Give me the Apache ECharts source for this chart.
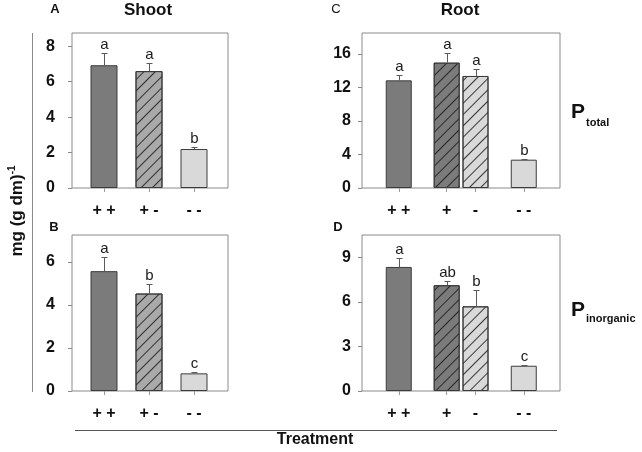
<!DOCTYPE html>
<html>
<head>
<meta charset="utf-8">
<script src="https://cdn.jsdelivr.net/npm/echarts@6/dist/echarts.min.js"></script>
<style>
  html, body { margin: 0; padding: 0; background: #fff; }
  #chart { width: 642px; height: 452px; }
</style>
</head>
<body>
<div id="chart"></div>
<script>
'use strict';

// treatment groups
var shootCats = ['+ +', '+ -', '- -'];
var rootCats = ['+ +', '', '- -'];     // middle group is split in two bars
var rootPairCats = ['+', '-'];

// A: shoot, P total
var shootTotal = [6.93, 6.6, 2.2];
var shootTotalErr = [0.67, 0.45, 0.1];
var shootTotalSig = ['a', 'a', 'b'];
// B: shoot, P inorganic
var shootInorg = [5.57, 4.53, 0.82];
var shootInorgErr = [0.66, 0.44, 0.05];
var shootInorgSig = ['a', 'b', 'c'];
// C: root, P total  (++, +, -, --)
var rootTotal = [12.85, 14.96, 13.37, 3.38];
var rootTotalErr = [0.6, 1.14, 0.88, 0.08];
var rootTotalSig = ['a', 'a', 'a', 'b'];
// D: root, P inorganic
var rootInorg = [8.35, 7.12, 5.7, 1.7];
var rootInorgErr = [0.63, 0.31, 1.1, 0.03];
var rootInorgSig = ['a', 'ab', 'b', 'c'];

// y tick labels
var ticksA = [0, 2, 4, 6, 8];
var ticksB = [0, 2, 4, 6];
var ticksC = [0, 4, 8, 12, 16];
var ticksD = [0, 3, 6, 9];

var FONT = '"Liberation Sans", Arial, sans-serif';
var dark = '#7b7b7b', mid = '#a9a9a9', light = '#d9d9d9';
var hatch = {
  symbol: 'rect', symbolSize: 1,
  dashArrayX: [1, 0], dashArrayY: [1, 7],
  rotation: -Math.PI / 4,
  color: 'rgba(25,25,25,0.85)'
};
var shootStyles = [{ color: dark }, { color: mid, decal: hatch }, { color: light }];
var rootStyles = [{ color: dark }, { color: dark, decal: hatch }, { color: light, decal: hatch }, { color: light }];

var grid = [], xAxis = [], yAxis = [], series = [];

var catLabel = { fontFamily: FONT, fontWeight: 'bold', fontSize: 16, color: '#111', margin: 15 };

// adds a grid with its own axes, returns its index
var addGrid = function(box, max, cats, xOpt, yOpt) {
  var gi = grid.length;
  grid.push({
    left: box.left, top: box.top, width: box.width, height: box.height,
    show: !!box.frame, borderColor: '#8a8a8a', borderWidth: 1
  });
  xAxis.push(Object.assign({
    type: 'category', gridIndex: gi, data: cats, show: false
  }, xOpt || {}));
  yAxis.push(Object.assign({
    type: 'value', gridIndex: gi, min: 0, max: max, show: false, splitLine: { show: false }
  }, yOpt || {}));
  return gi;
};

var barSeries = function(gi, idx, values, styles, width) {
  return {
    type: 'bar', xAxisIndex: gi, yAxisIndex: gi, barWidth: width, z: 2,
    data: idx.map(function(k) {
      if (k === null) { return '-'; }
      return {
        value: values[k],
        itemStyle: Object.assign({ borderColor: '#3c3c3c', borderWidth: 1 }, styles[k])
      };
    })
  };
};

var errSeries = function(gi, idx, values, errs, sig) {
  var data = [];
  idx.forEach(function(k, i) {
    if (k !== null) { data.push([i, values[k], errs[k], k]); }
  });
  return {
    type: 'custom', xAxisIndex: gi, yAxisIndex: gi, z: 5, clip: false,
    data: data,
    renderItem: function(params, api) {
      var base = api.coord([api.value(0), api.value(1)]);
      var top = api.coord([api.value(0), api.value(1) + api.value(2)]);
      var x = Math.round(base[0]) + 0.5;
      var yt = Math.round(top[1]) + 0.5;
      return {
        type: 'group',
        children: [
          { type: 'line', shape: { x1: x, y1: base[1], x2: x, y2: yt }, style: { stroke: '#5a5a5a', lineWidth: 1 } },
          { type: 'line', shape: { x1: x - 3, y1: yt, x2: x + 3, y2: yt }, style: { stroke: '#5a5a5a', lineWidth: 1 } },
          { type: 'text', x: x, y: yt - 1,
            style: { text: sig[api.value(3)], fill: '#1a1a1a', fontFamily: FONT, fontSize: 15,
                     align: 'center', verticalAlign: 'bottom' } }
        ]
      };
    }
  };
};

var addPanel = function(p) {
  // frame with the value axis
  addGrid(p.frame, p.max, [''], null, {
    show: true,
    axisLine: { show: false },
    axisTick: { show: true, length: 4, customValues: p.ticks, lineStyle: { color: '#8a8a8a' } },
    axisLabel: { customValues: p.ticks, fontFamily: FONT, fontWeight: 'bold', fontSize: 16, color: '#111', margin: p.labelMargin }
  });
  // main categories
  var gi = addGrid(p.main, p.max, p.cats, {
    show: true,
    axisLine: { show: false },
    axisTick: { show: true, alignWithLabel: true, length: 4, lineStyle: { color: '#9a9a9a' },
                interval: function(i) { return p.cats[i] !== ''; } },
    axisLabel: catLabel
  });
  series.push(barSeries(gi, p.mainIdx, p.values, p.styles, p.barWidth));
  series.push(errSeries(gi, p.mainIdx, p.values, p.errs, p.sig));
  if (p.pair) {
    var gp = addGrid(p.pair, p.max, rootPairCats, {
      show: true,
      axisLine: { show: false },
      axisTick: { show: true, alignWithLabel: true, length: 4, lineStyle: { color: '#9a9a9a' } },
      axisLabel: catLabel
    });
    series.push(barSeries(gp, p.pairIdx, p.values, p.styles, p.barWidth));
    series.push(errSeries(gp, p.pairIdx, p.values, p.errs, p.sig));
  }
};

var topRow = { top: 33, height: 155 }, botRow = { top: 235, height: 156 };
var shootFrame = { left: 72, width: 156 }, shootMain = { left: 81.5, width: 135 };
var rootFrame = { left: 362, width: 198 }, rootMain = { left: 367.5, width: 187.5 }, rootPair = { left: 432.3, width: 57.6 };

var box = function(col, row, frame) {
  return { left: col.left, width: col.width, top: row.top, height: row.height, frame: frame };
};

addPanel({ frame: box(shootFrame, topRow, true), main: box(shootMain, topRow), max: 8.75, ticks: ticksA, labelMargin: 17,
  cats: shootCats, mainIdx: [0, 1, 2], values: shootTotal, errs: shootTotalErr, sig: shootTotalSig, styles: shootStyles, barWidth: 27 });
addPanel({ frame: box(shootFrame, botRow, true), main: box(shootMain, botRow), max: 7.25, ticks: ticksB, labelMargin: 17,
  cats: shootCats, mainIdx: [0, 1, 2], values: shootInorg, errs: shootInorgErr, sig: shootInorgSig, styles: shootStyles, barWidth: 27 });
addPanel({ frame: box(rootFrame, topRow, true), main: box(rootMain, topRow), pair: box(rootPair, topRow), max: 18.5, ticks: ticksC, labelMargin: 11,
  cats: rootCats, mainIdx: [0, null, 3], pairIdx: [1, 2], values: rootTotal, errs: rootTotalErr, sig: rootTotalSig, styles: rootStyles, barWidth: 26 });
addPanel({ frame: box(rootFrame, botRow, true), main: box(rootMain, botRow), pair: box(rootPair, botRow), max: 10.5, ticks: ticksD, labelMargin: 11,
  cats: rootCats, mainIdx: [0, null, 3], pairIdx: [1, 2], values: rootInorg, errs: rootInorgErr, sig: rootInorgSig, styles: rootStyles, barWidth: 26 });

var txt = function(x, y, text, size, weight, align) {
  return {
    type: 'text', x: x, y: y,
    style: { text: text, fontFamily: FONT, fontSize: size, fontWeight: weight, fill: '#111', align: align || 'center', verticalAlign: 'middle' }
  };
};

var graphic = [
  txt(55, 9, 'A', 13, 'bold'),
  txt(54, 227, 'B', 13, 'bold'),
  txt(336, 9, 'C', 13, 'normal'),
  txt(338, 227, 'D', 13, 'bold'),
  txt(148, 10, 'Shoot', 17, 'bold'),
  txt(460, 10, 'Root', 17, 'bold'),
  txt(578, 112, 'P', 21, 'bold'),
  txt(586, 123, 'total', 11, 'bold', 'left'),
  txt(578, 310, 'P', 21, 'bold'),
  txt(586, 319, 'inorganic', 11, 'bold', 'left'),
  txt(315, 440, 'Treatment', 16, 'bold'),
  {
    type: 'text', x: 17, y: 211, rotation: Math.PI / 2,
    style: {
      text: '{b|mg (g dm)}{s|-1}', align: 'center', verticalAlign: 'middle',
      rich: {
        b: { fontFamily: FONT, fontSize: 17, fontWeight: 'bold', fill: '#111', lineHeight: 20 },
        s: { fontFamily: FONT, fontSize: 10, fontWeight: 'bold', fill: '#111', verticalAlign: 'top', lineHeight: 20, padding: [0, 0, 8, 0] }
      }
    }
  },
  { type: 'line', shape: { x1: 32.5, y1: 33, x2: 32.5, y2: 392 }, style: { stroke: '#8a8a8a', lineWidth: 1 } },
  { type: 'line', shape: { x1: 75, y1: 430.5, x2: 557, y2: 430.5 }, style: { stroke: '#555', lineWidth: 1 } }
];

var chart = echarts.init(document.getElementById('chart'), null, { renderer: 'canvas' });
chart.setOption({
  animation: false,
  backgroundColor: '#fff',
  grid: grid,
  xAxis: xAxis,
  yAxis: yAxis,
  series: series,
  graphic: graphic
});
</script>
</body>
</html>
